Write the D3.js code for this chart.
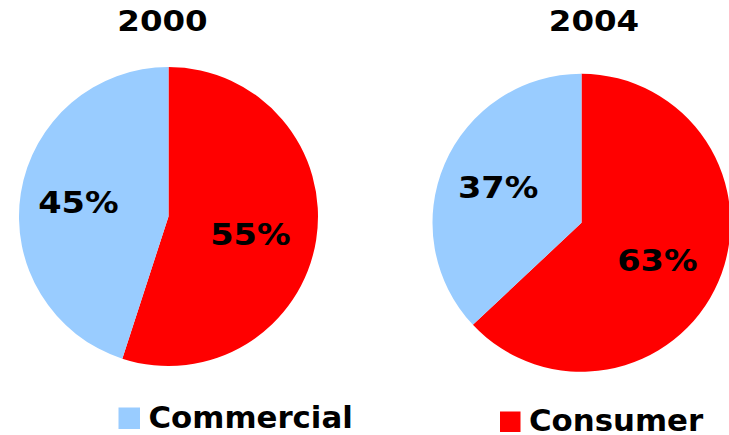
<!DOCTYPE html>
<html>
<head>
<meta charset="utf-8">
<script src="https://cdn.jsdelivr.net/npm/d3@7"></script>
<style>
  html, body { margin: 0; padding: 0; background: #fff; }
  svg { display: block; }
  text { font-family: "DejaVu Sans", Verdana, sans-serif; font-weight: bold; fill: #000; }
</style>
</head>
<body>
<svg id="chart" width="729" height="435"></svg>
<script>
// Market share by segment, two survey years
const years = ["2000", "2004"];
const segments = ["Consumer", "Commercial"];
const consumerShare = [55, 63];
const commercialShare = [45, 37];
const segmentColors = ["#FF0000", "#99CCFF"];

// Layout of the two pies
const pieCenters = [[168.5, 216.5], [581.5, 222.8]];
const pieRadius = [149.5, 149];
const titleX = [162.5, 594];
const titleBaseline = 31;
// Percent labels: fraction of radius and extra downward shift, per segment
const labelRadius = { Consumer: 0.555, Commercial: 0.61 };
const labelShift = { Consumer: 4.5, Commercial: 0 };

const svg = d3.select("#chart");
const color = d3.scaleOrdinal().domain(segments).range(segmentColors);
const pie = d3.pie().sort(null).value(d => d.value);

years.forEach((year, i) => {
  const data = [
    { segment: segments[0], value: consumerShare[i] },
    { segment: segments[1], value: commercialShare[i] }
  ];
  const r = pieRadius[i];
  const arc = d3.arc().innerRadius(0).outerRadius(r);

  const g = svg.append("g")
    .attr("transform", `translate(${pieCenters[i][0]},${pieCenters[i][1]})`);

  const arcs = pie(data);
  g.selectAll("path")
    .data(arcs)
    .join("path")
    .attr("d", arc)
    .attr("fill", d => color(d.data.segment));

  g.selectAll("text.pct")
    .data(arcs)
    .join("text")
    .attr("class", "pct")
    .attr("transform", d => {
      const lr = r * labelRadius[d.data.segment];
      const [x, y] = d3.arc().innerRadius(lr).outerRadius(lr).centroid(d);
      return `translate(${x},${y + 11 + labelShift[d.data.segment]}) scale(1.12,1)`;
    })
    .attr("text-anchor", "middle")
    .style("font-size", "30px")
    .text(d => d.data.value + "%");

  svg.append("text")
    .attr("transform", `translate(${titleX[i]},${titleBaseline}) scale(1.12,1)`)
    .attr("text-anchor", "middle")
    .style("font-size", "29px")
    .text(year);
});

// Legend
const legendItems = [
  { segment: "Commercial", x: 118.5, y: 407.5, size: 21.5 },
  { segment: "Consumer", x: 500, y: 411.5, size: 20.5 }
];
const legend = svg.selectAll("g.legend")
  .data(legendItems)
  .join("g")
  .attr("class", "legend")
  .attr("transform", d => `translate(${d.x},${d.y})`);
legend.append("rect")
  .attr("width", d => d.size)
  .attr("height", d => d.size)
  .attr("fill", d => color(d.segment));
legend.append("text")
  .attr("transform", d => `translate(${d.size + 8.5},${d.size - 1}) scale(1.045,1)`)
  .style("font-size", "29.5px")
  .text(d => d.segment);
</script>
</body>
</html>
